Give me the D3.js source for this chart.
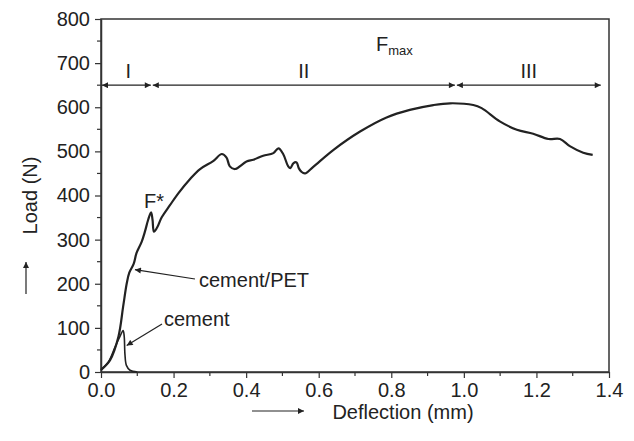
<!DOCTYPE html>
<html>
<head>
<meta charset="utf-8">
<script src="https://cdn.jsdelivr.net/npm/d3@7/dist/d3.min.js"></script>
<style>
  html, body { margin: 0; padding: 0; background: #fff; }
  svg { display: block; font-family: "Liberation Sans", Arial, sans-serif; }
</style>
</head>
<body>
<svg id="chart" width="634" height="441"></svg>
<script>
// Load–deflection curve of the cement/PET composite
const petDeflection = [0, 0.025, 0.048, 0.061, 0.071, 0.078, 0.09, 0.098, 0.112, 0.121, 0.13, 0.138, 0.142, 0.146, 0.155, 0.167, 0.19, 0.213, 0.245, 0.273, 0.309, 0.333, 0.346, 0.355, 0.369, 0.401, 0.42, 0.447, 0.475, 0.489, 0.502, 0.516, 0.522, 0.53, 0.539, 0.545, 0.552, 0.562, 0.585, 0.64, 0.714, 0.787, 0.851, 0.916, 0.962, 1.026, 1.049, 1.099, 1.146, 1.191, 1.233, 1.265, 1.292, 1.329, 1.355];
const petLoad = [5, 27, 80, 148, 201, 225, 245, 270, 295, 318, 345, 362, 345, 318, 328, 350, 378, 405, 437, 460, 478, 494, 486, 466, 460, 477, 481, 490, 496, 507, 494, 466, 462, 473, 475, 462, 454, 450, 465, 503, 545, 577, 594, 605, 609, 605, 598, 568, 549, 540, 528, 528, 512, 497, 492];

// Load–deflection curve of plain cement
const cementDeflection = [0, 0.02, 0.039, 0.052, 0.061, 0.064, 0.066, 0.07, 0.08, 0.1];
const cementLoad = [5, 22, 57, 80, 94, 80, 40, 15, 4, 0];

// Axis ticks
const xTicks = [0, 0.2, 0.4, 0.6, 0.8, 1.0, 1.2, 1.4];
const xMinorTicks = [0.1, 0.3, 0.5, 0.7, 0.9, 1.1, 1.3];
const yTicks = [0, 100, 200, 300, 400, 500, 600, 700, 800];
const yMinorTicks = [50, 150, 250, 350, 450, 550, 650, 750];

// Stage boundaries (deflection, mm) and their labels
const stageBounds = [0, 0.14, 0.978, 1.38];
const stageLabels = ["I", "II", "III"];
const stageLevel = 650;

const ink = "#222";
const fs = "20px";
const svg = d3.select("#chart");
const margin = { left: 101, right: 25, top: 19, bottom: 69 };
const W = 634, H = 441;

const x = d3.scaleLinear().domain([0, 1.4]).range([margin.left, W - margin.right]);
const y = d3.scaleLinear().domain([0, 800]).range([H - margin.bottom, margin.top]);

const defs = svg.append("defs");
defs.append("marker")
  .attr("id", "head")
  .attr("viewBox", "0 0 10 10")
  .attr("refX", 10).attr("refY", 5)
  .attr("markerWidth", 8).attr("markerHeight", 6)
  .attr("markerUnits", "userSpaceOnUse")
  .attr("orient", "auto-start-reverse")
  .append("path").attr("d", "M0,0 L10,5 L0,10 z").attr("fill", ink);

// Frame
svg.append("rect")
  .attr("x", x(0)).attr("y", y(800))
  .attr("width", x(1.4) - x(0)).attr("height", y(0) - y(800))
  .attr("fill", "none").attr("stroke", "#333").attr("stroke-width", 1.5);

// Axes
const xAxis = d3.axisBottom(x).tickValues(xTicks).tickFormat(d3.format(".1f")).tickSize(6).tickSizeOuter(0);
const gx = svg.append("g").attr("transform", `translate(0,${y(0)})`).call(xAxis);
svg.append("g").selectAll("line").data(xMinorTicks).join("line")
  .attr("x1", d => x(d)).attr("x2", d => x(d))
  .attr("y1", y(0)).attr("y2", y(0) + 4)
  .attr("stroke", "#333").attr("stroke-width", 1.2);

const yAxis = d3.axisLeft(y).tickValues(yTicks).tickFormat(d3.format("d")).tickSize(6).tickSizeOuter(0);
const gy = svg.append("g").attr("transform", `translate(${x(0)},0)`).call(yAxis);
svg.append("g").selectAll("line").data(yMinorTicks).join("line")
  .attr("x1", x(0) - 4).attr("x2", x(0))
  .attr("y1", d => y(d)).attr("y2", d => y(d))
  .attr("stroke", "#333").attr("stroke-width", 1.2);

[gx, gy].forEach(g => {
  g.select(".domain").attr("stroke", "#333").attr("stroke-width", 1.5);
  g.selectAll(".tick line").attr("stroke", "#333").attr("stroke-width", 1.2);
  g.selectAll(".tick text").attr("fill", ink).style("font-size", fs)
    .style("font-family", "'Liberation Sans', Arial, sans-serif");
});
gx.selectAll(".tick text").attr("dy", "0.95em").attr("y", 6);
gy.selectAll(".tick text").attr("x", -11);

// Axis titles with direction arrows
svg.append("text")
  .attr("transform", `translate(37,${(y(0) + y(800)) / 2}) rotate(-90)`)
  .attr("text-anchor", "middle").attr("fill", ink).style("font-size", fs)
  .text("Load (N)");
svg.append("line")
  .attr("x1", 26).attr("x2", 26).attr("y1", 294).attr("y2", 262)
  .attr("stroke", ink).attr("stroke-width", 1.2).attr("marker-end", "url(#head)");

svg.append("text")
  .attr("x", 403).attr("y", 419)
  .attr("text-anchor", "middle").attr("fill", ink).style("font-size", fs)
  .text("Deflection (mm)");
svg.append("line")
  .attr("x1", 252).attr("x2", 304).attr("y1", 411).attr("y2", 411)
  .attr("stroke", ink).attr("stroke-width", 1.2).attr("marker-end", "url(#head)");

// Stage arrows
const stages = d3.range(stageLabels.length).map(i => ({
  from: stageBounds[i], to: stageBounds[i + 1], label: stageLabels[i]
}));
svg.append("g").selectAll("line").data(stages).join("line")
  .attr("x1", d => x(d.from) + 1).attr("x2", d => x(d.to) - 1)
  .attr("y1", y(stageLevel)).attr("y2", y(stageLevel))
  .attr("stroke", ink).attr("stroke-width", 1.2)
  .attr("marker-start", "url(#head)").attr("marker-end", "url(#head)");
svg.append("g").selectAll("text").data(stages).join("text")
  .attr("x", d => (x(d.from) + x(d.to)) / 2 + (d.label === "I" ? 2 : 0))
  .attr("y", y(stageLevel) - 7)
  .attr("text-anchor", "middle").attr("fill", ink).style("font-size", fs)
  .text(d => d.label);

// Fmax label
const fmax = svg.append("text").attr("x", 376).attr("y", 51).attr("fill", ink).style("font-size", fs);
fmax.append("tspan").text("F");
fmax.append("tspan").attr("dy", 4).style("font-size", "13px").text("max");

// Curves
const line = d3.line().x(d => x(d[0])).y(d => y(d[1])).curve(d3.curveCatmullRom.alpha(0.5));
const pet = petDeflection.map((d, i) => [d, petLoad[i]]);
const cement = cementDeflection.map((d, i) => [d, cementLoad[i]]);

svg.append("path").datum(cement).attr("d", line)
  .attr("fill", "none").attr("stroke", ink).attr("stroke-width", 1.6);
svg.append("path").datum(pet).attr("d", line)
  .attr("fill", "none").attr("stroke", ink).attr("stroke-width", 2.2);

// Annotations
svg.append("text").attr("x", 144).attr("y", 208).attr("fill", ink).style("font-size", fs).text("F*");

svg.append("text").attr("x", 199).attr("y", 287).attr("fill", ink).style("font-size", fs).text("cement/PET");
svg.append("line")
  .attr("x1", 195).attr("y1", 279).attr("x2", x(0.088) + 2).attr("y2", y(232))
  .attr("stroke", ink).attr("stroke-width", 1.2).attr("marker-end", "url(#head)");

svg.append("text").attr("x", 164).attr("y", 326).attr("fill", ink).style("font-size", fs).text("cement");
svg.append("line")
  .attr("x1", 162).attr("y1", 324).attr("x2", x(0.068) + 1).attr("y2", y(60))
  .attr("stroke", ink).attr("stroke-width", 1.2).attr("marker-end", "url(#head)");
</script>
</body>
</html>
